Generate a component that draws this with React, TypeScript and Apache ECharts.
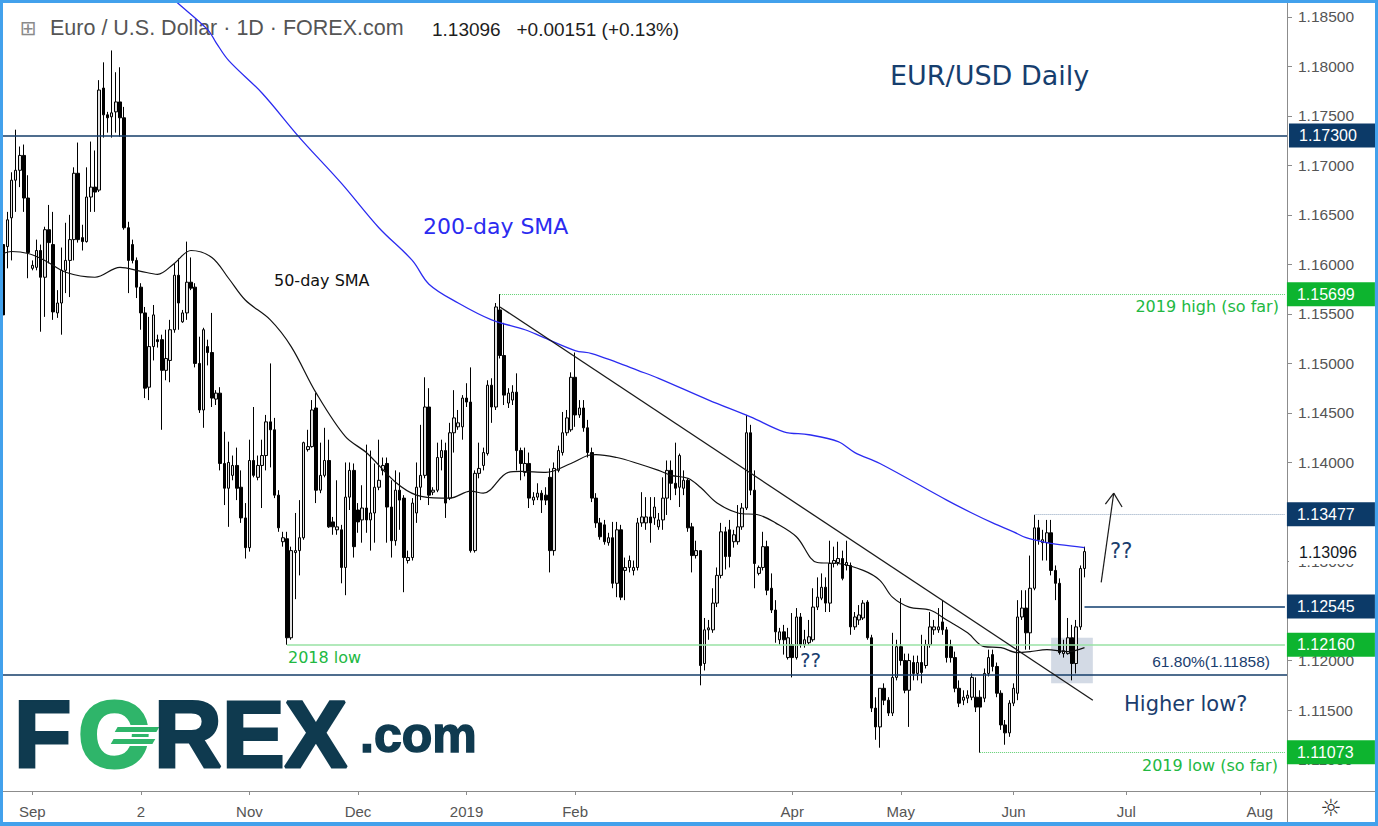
import React, { useEffect, useRef } from "react";
import * as echarts from "echarts";

// ---------- DATA ----------
const candleOpen = [
  1.1620,1.1618,1.1647,1.1685,1.1695,1.1710,1.1667,1.1596,1.1597,1.1614,
  1.1587,1.1635,1.1620,1.1551,1.1561,1.1594,1.1604,1.1625,1.1692,1.1627,
  1.1623,1.1668,1.1678,1.1675,1.1778,1.1751,1.1749,1.1754,1.1764,1.1748,
  1.1637,1.1620,1.1604,1.1577,1.1551,1.1476,1.1517,1.1524,1.1524,1.1493,
  1.1503,1.1534,1.1589,1.1542,1.1551,1.1582,1.1577,1.1500,1.1453,1.1517,
  1.1511,1.1464,1.1470,1.1399,1.1374,1.1387,1.1397,1.1375,1.1344,1.1314,
  1.1402,1.1385,1.1397,1.1407,1.1441,1.1433,1.1367,1.1320,1.1323,1.1223,
  1.1309,1.1311,1.1324,1.1413,1.1416,1.1455,1.1372,1.1387,1.1402,1.1340,
  1.1332,1.1332,1.1294,1.1365,1.1392,1.1352,1.1342,1.1354,1.1342,1.1349,
  1.1375,1.1392,1.1399,1.1355,1.1321,1.1372,1.1364,1.1301,1.1304,1.1349,
  1.1375,1.1387,1.1456,1.1370,1.1372,1.1405,1.1412,1.1364,1.1430,1.1436,
  1.1436,1.1465,1.1461,1.1311,1.1389,1.1397,1.1409,1.1478,1.1456,1.1554,
  1.1508,1.1460,1.1463,1.1471,1.1412,1.1390,1.1399,1.1362,1.1365,1.1369,
  1.1367,1.1385,1.1311,1.1392,1.1410,1.1430,1.1433,1.1486,1.1448,1.1455,
  1.1435,1.1410,1.1364,1.1339,1.1337,1.1319,1.1324,1.1278,1.1332,1.1291,
  1.1294,1.1291,1.1294,1.1339,1.1339,1.1345,1.1344,1.1335,1.1342,1.1364,
  1.1392,1.1379,1.1375,1.1374,1.1382,1.1335,1.1306,1.1311,1.1197,1.1231,
  1.1231,1.1258,1.1286,1.1330,1.1332,1.1320,1.1320,1.1335,1.1354,1.1430,
  1.1372,1.1288,1.1294,1.1315,1.1273,1.1251,1.1221,1.1229,1.1203,1.1216,
  1.1203,1.1244,1.1216,1.1218,1.1221,1.1254,1.1263,1.1274,1.1258,1.1298,
  1.1299,1.1303,1.1296,1.1296,1.1234,1.1241,1.1243,1.1259,1.1223,1.1152,
  1.1133,1.1172,1.1160,1.1147,1.1183,1.1214,1.1200,1.1170,1.1198,1.1187,
  1.1198,1.1195,1.1216,1.1231,1.1231,1.1239,1.1231,1.1214,1.1203,1.1172,
  1.1160,1.1162,1.1163,1.1163,1.1163,1.1162,1.1187,1.1206,1.1194,1.1167,
  1.1135,1.1127,1.1157,1.1167,1.1244,1.1253,1.1228,1.1273,1.1334,1.1319,
  1.1319,1.1329,1.1291,1.1278,1.1207,1.1207,1.1223,1.1197,1.1234,1.1293,
];
const candleClose = [
  1.1549,1.1645,1.1685,1.1695,1.1710,1.1667,1.1612,1.1599,1.1614,1.1587,
  1.1635,1.1622,1.1552,1.1561,1.1594,1.1604,1.1625,1.1692,1.1625,1.1623,
  1.1668,1.1678,1.1673,1.1776,1.1751,1.1748,1.1753,1.1764,1.1748,1.1637,
  1.1604,1.1604,1.1577,1.1551,1.1475,1.1517,1.1549,1.1522,1.1493,1.1505,
  1.1534,1.1589,1.1561,1.1551,1.1582,1.1576,1.1500,1.1453,1.1534,1.1511,
  1.1465,1.1470,1.1399,1.1374,1.1400,1.1397,1.1374,1.1344,1.1314,1.1402,
  1.1387,1.1397,1.1407,1.1441,1.1433,1.1367,1.1334,1.1324,1.1223,1.1311,
  1.1311,1.1324,1.1420,1.1416,1.1453,1.1372,1.1387,1.1402,1.1335,1.1335,
  1.1335,1.1294,1.1365,1.1392,1.1315,1.1340,1.1354,1.1342,1.1349,1.1375,
  1.1382,1.1397,1.1355,1.1321,1.1372,1.1362,1.1304,1.1304,1.1359,1.1375,
  1.1387,1.1456,1.1367,1.1372,1.1405,1.1412,1.1359,1.1430,1.1445,1.1440,
  1.1465,1.1461,1.1311,1.1389,1.1394,1.1410,1.1478,1.1456,1.1557,1.1508,
  1.1468,1.1470,1.1471,1.1412,1.1399,1.1399,1.1364,1.1365,1.1369,1.1362,
  1.1362,1.1311,1.1394,1.1412,1.1430,1.1445,1.1486,1.1448,1.1455,1.1435,
  1.1410,1.1364,1.1339,1.1325,1.1320,1.1324,1.1278,1.1332,1.1264,1.1294,
  1.1301,1.1294,1.1339,1.1345,1.1345,1.1339,1.1355,1.1342,1.1364,1.1392,
  1.1379,1.1374,1.1407,1.1382,1.1334,1.1306,1.1311,1.1195,1.1231,1.1233,
  1.1258,1.1286,1.1330,1.1305,1.1305,1.1327,1.1335,1.1354,1.1430,1.1372,
  1.1298,1.1294,1.1315,1.1271,1.1251,1.1229,1.1229,1.1221,1.1223,1.1203,
  1.1244,1.1216,1.1221,1.1224,1.1254,1.1264,1.1274,1.1258,1.1298,1.1301,
  1.1303,1.1283,1.1299,1.1234,1.1244,1.1246,1.1258,1.1223,1.1152,1.1133,
  1.1172,1.1160,1.1147,1.1183,1.1214,1.1200,1.1170,1.1200,1.1187,1.1198,
  1.1188,1.1216,1.1234,1.1234,1.1234,1.1231,1.1203,1.1203,1.1172,1.1157,
  1.1163,1.1165,1.1183,1.1153,1.1153,1.1187,1.1203,1.1194,1.1167,1.1135,
  1.1127,1.1157,1.1172,1.1244,1.1253,1.1228,1.1273,1.1334,1.1322,1.1322,
  1.1329,1.1291,1.1278,1.1208,1.1210,1.1223,1.1197,1.1234,1.1293,1.1310,
];
const candleHigh = [
  1.1625,1.1653,1.1693,1.1736,1.1719,1.1721,1.1690,1.1604,1.1625,1.1620,
  1.1638,1.1660,1.1653,1.1574,1.1617,1.1642,1.1650,1.1698,1.1723,1.1640,
  1.1698,1.1724,1.1715,1.1786,1.1804,1.1754,1.1816,1.1794,1.1799,1.1759,
  1.1643,1.1625,1.1607,1.1581,1.1557,1.1547,1.1559,1.1529,1.1529,1.1534,
  1.1544,1.1601,1.1606,1.1554,1.1623,1.1607,1.1581,1.1527,1.1536,1.1524,
  1.1551,1.1473,1.1476,1.1431,1.1421,1.1407,1.1415,1.1392,1.1359,1.1423,
  1.1456,1.1407,1.1423,1.1448,1.1500,1.1445,1.1372,1.1330,1.1330,1.1315,
  1.1349,1.1362,1.1421,1.1433,1.1463,1.1470,1.1420,1.1435,1.1423,1.1345,
  1.1382,1.1337,1.1400,1.1400,1.1399,1.1359,1.1377,1.1418,1.1412,1.1399,
  1.1423,1.1405,1.1405,1.1382,1.1392,1.1390,1.1367,1.1311,1.1364,1.1400,
  1.1438,1.1486,1.1475,1.1375,1.1420,1.1423,1.1420,1.1440,1.1473,1.1453,
  1.1468,1.1480,1.1496,1.1392,1.1420,1.1415,1.1483,1.1485,1.1561,1.1570,
  1.1541,1.1475,1.1478,1.1490,1.1415,1.1415,1.1410,1.1370,1.1379,1.1372,
  1.1375,1.1394,1.1400,1.1417,1.1451,1.1453,1.1491,1.1511,1.1463,1.1463,
  1.1443,1.1415,1.1369,1.1344,1.1342,1.1329,1.1340,1.1340,1.1337,1.1304,
  1.1306,1.1301,1.1344,1.1370,1.1365,1.1365,1.1365,1.1349,1.1385,1.1402,
  1.1402,1.1420,1.1409,1.1392,1.1384,1.1339,1.1321,1.1311,1.1243,1.1241,
  1.1273,1.1294,1.1339,1.1335,1.1342,1.1332,1.1357,1.1359,1.1448,1.1438,
  1.1392,1.1296,1.1330,1.1321,1.1288,1.1261,1.1233,1.1236,1.1233,1.1248,
  1.1253,1.1248,1.1231,1.1241,1.1273,1.1284,1.1288,1.1284,1.1321,1.1315,
  1.1320,1.1311,1.1321,1.1299,1.1249,1.1256,1.1261,1.1261,1.1226,1.1163,
  1.1172,1.1177,1.1163,1.1228,1.1221,1.1263,1.1207,1.1207,1.1205,1.1205,
  1.1226,1.1221,1.1249,1.1241,1.1253,1.1261,1.1234,1.1221,1.1209,1.1180,
  1.1170,1.1170,1.1187,1.1183,1.1170,1.1192,1.1211,1.1211,1.1198,1.1170,
  1.1140,1.1160,1.1177,1.1261,1.1271,1.1271,1.1306,1.1347,1.1342,1.1332,
  1.1342,1.1342,1.1296,1.1283,1.1221,1.1243,1.1236,1.1241,1.1296,1.1315,
];
const candleLow = [
  1.1542,1.1596,1.1604,1.1653,1.1678,1.1653,1.1586,1.1594,1.1594,1.1532,
  1.1547,1.1601,1.1544,1.1546,1.1529,1.1571,1.1567,1.1604,1.1622,1.1614,
  1.1622,1.1653,1.1653,1.1673,1.1728,1.1733,1.1728,1.1733,1.1729,1.1635,
  1.1571,1.1601,1.1566,1.1534,1.1465,1.1463,1.1503,1.1516,1.1433,1.1483,
  1.1481,1.1531,1.1534,1.1541,1.1544,1.1574,1.1496,1.1450,1.1435,1.1498,
  1.1456,1.1458,1.1392,1.1357,1.1335,1.1382,1.1362,1.1339,1.1303,1.1310,
  1.1385,1.1382,1.1354,1.1392,1.1395,1.1364,1.1330,1.1315,1.1216,1.1221,
  1.1262,1.1286,1.1322,1.1411,1.1415,1.1359,1.1369,1.1385,1.1334,1.1327,
  1.1327,1.1278,1.1266,1.1352,1.1304,1.1329,1.1319,1.1329,1.1311,1.1319,
  1.1372,1.1387,1.1319,1.1304,1.1316,1.1332,1.1269,1.1298,1.1301,1.1339,
  1.1362,1.1384,1.1357,1.1367,1.1370,1.1392,1.1344,1.1362,1.1410,1.1433,
  1.1423,1.1456,1.1309,1.1309,1.1384,1.1392,1.1407,1.1440,1.1453,1.1505,
  1.1458,1.1455,1.1458,1.1392,1.1382,1.1386,1.1354,1.1357,1.1362,1.1349,
  1.1357,1.1289,1.1306,1.1390,1.1407,1.1427,1.1431,1.1436,1.1445,1.1431,
  1.1405,1.1360,1.1334,1.1322,1.1317,1.1316,1.1273,1.1264,1.1261,1.1261,
  1.1289,1.1286,1.1291,1.1335,1.1332,1.1319,1.1337,1.1332,1.1332,1.1347,
  1.1362,1.1367,1.1355,1.1367,1.1330,1.1289,1.1303,1.1175,1.1190,1.1221,
  1.1228,1.1254,1.1283,1.1292,1.1294,1.1314,1.1317,1.1332,1.1352,1.1367,
  1.1273,1.1286,1.1291,1.1266,1.1248,1.1218,1.1216,1.1206,1.1201,1.1183,
  1.1201,1.1213,1.1213,1.1216,1.1219,1.1251,1.1261,1.1249,1.1249,1.1294,
  1.1296,1.1281,1.1291,1.1226,1.1231,1.1236,1.1241,1.1221,1.1148,1.1120,
  1.1112,1.1155,1.1144,1.1144,1.1180,1.1195,1.1167,1.1133,1.1180,1.1180,
  1.1177,1.1192,1.1213,1.1226,1.1228,1.1226,1.1198,1.1198,1.1168,1.1153,
  1.1155,1.1157,1.1160,1.1148,1.1107,1.1158,1.1184,1.1189,1.1163,1.1130,
  1.1115,1.1123,1.1154,1.1160,1.1241,1.1211,1.1211,1.1271,1.1317,1.1301,
  1.1301,1.1286,1.1261,1.1206,1.1203,1.1206,1.1180,1.1187,1.1231,1.1284,
];

// 50-day and 200-day SMA as [bar index, value]
const sma50Points = [
  [0,1.1611],[2,1.1613],[6,1.1611],[10,1.1604],[15,1.1592],[22,1.1587],[28,1.1597],[33,1.1593],
  [37,1.1590],[41,1.1601],[45,1.1614],[50,1.1607],[54,1.1586],[58,1.1564],[64,1.1544],[69,1.1517],
  [75,1.1470],[82,1.1426],[87,1.1410],[94,1.1380],[99,1.1367],[105,1.1364],[107,1.1364],[112,1.1371],
  [115,1.1369],[121,1.1390],[124,1.1391],[130,1.1390],[136,1.1399],[140,1.1407],[142,1.1408],[147,1.1405],
  [152,1.1399],[157,1.1392],[160,1.1387],[164,1.1384],[167,1.1375],[171,1.1359],[176,1.1349],[181,1.1347],
  [185,1.1339],[190,1.1325],[195,1.1299],[200,1.1298],[206,1.1291],[210,1.1281],[213,1.1264],[217,1.1254],
  [222,1.1251],[226,1.1241],[231,1.1228],[235,1.1214],[239,1.1213],[243,1.1208],[246,1.1209],[250,1.1211],
  [255,1.1209],[259,1.1213],
];
const sma200Points = [
  [40,1.1872],[41,1.1867],[49,1.1837],[51,1.1824],[54,1.1806],[62,1.1773],[71,1.1728],[81,1.1682],
  [90,1.1637],[98,1.1604],[102,1.1580],[109,1.1561],[117,1.1544],[125,1.1534],[129,1.1527],[137,1.1513],
  [141,1.1510],[147,1.1501],[152,1.1493],[157,1.1485],[169,1.1463],[179,1.1446],[187,1.1431],[193,1.1428],
  [200,1.1421],[204,1.1410],[210,1.1399],[226,1.1362],[232,1.1349],[237,1.1339],[242,1.1330],[245,1.1324],
  [250,1.1319],[253,1.1317],[259,1.1314],
];

const FUTURE_SLOTS = 48;
const monthTickIndex = [7, 33, 59, 85, 111, 137, 189, 215, 242, 269, 301];
const monthTickLabel = ["Sep", "2", "Nov", "Dec", "2019", "Feb", "Apr", "May", "Jun", "Jul", "Aug"];
const priceTicks = [1.11, 1.115, 1.12, 1.125, 1.13, 1.135, 1.14, 1.145, 1.15, 1.155, 1.16, 1.165, 1.17, 1.175, 1.18, 1.185];
const Y_MIN = 1.10683;
const Y_MAX = 1.18639;

const lastPrice = 1.13096;
const lastChange = "+0.00151 (+0.13%)";
const levelResistance = 1.173;
const levelHigh2019 = 1.15699;
const levelJunHigh = 1.13477;
const levelPivot = 1.12545;
const levelLow2018 = 1.1216;
const levelFib = 1.11858;
const levelLow2019 = 1.11073;
const high2019Idx = 119;
const junHighIdx = 247;
const low2018Idx = 68;
const low2019Idx = 234;
const trendStart = [119, 1.1557];
const trendEnd = [261, 1.116];
const arrowTail = [263, 1.1279];
const arrowTip = [266, 1.1369];
const arrowArmLeft = [264, 1.1358];
const arrowArmRight = [268, 1.1355];
const boxCorner1 = [251, 1.1223];
const boxCorner2 = [261, 1.1177];

// ---------- STYLE ----------
const FONT_UI = "'Liberation Sans', Arial, Helvetica, sans-serif";
const FONT_NOTE = "'DejaVu Sans', Verdana, sans-serif";
const NAVY_BOX = "#0c3a68";
const NAVY_LINE = "#143d69";
const GREEN_BOX = "#0db42f";
const GREEN_TEXT = "#22b842";
const GREEN_DOT = "#5fd070";
const GREEN_SOLID = "#98e2a4";
const SLATE = "#4b6d92";
const DOT_BLUE = "#8fa5bf";
const BLUE_SMA = "#2b2bf0";
const TEXT_NAVY = "#1a3d6d";
const AXIS_GRAY = "#8c8c8c";
const LABEL_GRAY = "#555555";
const LOGO_NAVY = "#0f3a4f";
const LOGO_GREEN = "#2fb56a";

export default function App() {
  const ref = useRef<HTMLDivElement>(null);

  useEffect(() => {
    if (!ref.current) return;
    const chart = echarts.init(ref.current, null, { renderer: "svg", width: 1378, height: 826 });

    const dates: string[] = [];
    let d = new Date(Date.UTC(2018, 7, 24));
    while (dates.length < candleOpen.length) {
      if (d.getUTCDay() !== 6) dates.push(d.toISOString().slice(0, 10));
      d = new Date(d.getTime() + 86400000);
    }
    const categories = [...dates, ...Array.from({ length: FUTURE_SLOTS }, (_, k) => `+${k + 1}`)];
    const LAST_SLOT = categories.length - 1;
    const lastIdx = candleOpen.length - 1;

    const candles = candleOpen.map((o, i) => [o, candleClose[i], candleLow[i], candleHigh[i]]);
    const tickSet = new Set(monthTickIndex);
    const labelMap = new Map(monthTickIndex.map((idx, k) => [idx, monthTickLabel[k]]));

    const priceBox = (v: number, bg: string, fg: string) => ({
      show: true,
      position: "end",
      distance: 2,
      formatter: v.toFixed(5),
      color: fg,
      backgroundColor: bg,
      padding: [4, 0, 4, 10],
      width: 78,
      lineHeight: 16,
      fontSize: 16,
      fontFamily: FONT_UI,
    });
    const note = (text: string, position: string, distance: number[], color: string, size: number, family = FONT_NOTE) => ({
      show: true,
      position,
      distance,
      formatter: text,
      color,
      fontSize: size,
      fontFamily: family,
    });
    const hidden = { color: "rgba(0,0,0,0)", width: 0, type: "solid" };
    const solidBlack = { color: "#1a1a1a", width: 1.3, type: "solid" };

    const markLineData: any[] = [
      { yAxis: levelResistance, lineStyle: { color: NAVY_LINE, width: 1.5, type: "solid" }, label: priceBox(levelResistance, NAVY_BOX, "#fff") },
      [
        { coord: [high2019Idx, levelHigh2019], lineStyle: { color: GREEN_DOT, width: 1, type: "dotted" }, label: priceBox(levelHigh2019, GREEN_BOX, "#fff") },
        { coord: [LAST_SLOT, levelHigh2019] },
      ],
      [
        { coord: [high2019Idx, levelHigh2019], lineStyle: hidden, label: note("2019 high (so far)", "insideEndBottom", [6, 4], GREEN_TEXT, 16) },
        { coord: [LAST_SLOT, levelHigh2019] },
      ],
      [
        { coord: [junHighIdx, levelJunHigh], lineStyle: { color: DOT_BLUE, width: 1, type: "dotted" }, label: priceBox(levelJunHigh, NAVY_BOX, "#fff") },
        { coord: [LAST_SLOT, levelJunHigh] },
      ],
      { yAxis: lastPrice, lineStyle: hidden, label: priceBox(lastPrice, "#ffffff", "#131722") },
      [
        { coord: [lastIdx, levelPivot], lineStyle: { color: SLATE, width: 2, type: "solid" }, label: priceBox(levelPivot, NAVY_BOX, "#fff") },
        { coord: [LAST_SLOT, levelPivot] },
      ],
      [
        { coord: [low2018Idx, levelLow2018], lineStyle: { color: GREEN_SOLID, width: 1.5, type: "solid" }, label: priceBox(levelLow2018, GREEN_BOX, "#fff") },
        { coord: [LAST_SLOT, levelLow2018] },
      ],
      [
        { coord: [low2018Idx, levelLow2018], lineStyle: hidden, label: note("2018 low", "insideStartBottom", [1, 5], GREEN_TEXT, 16) },
        { coord: [LAST_SLOT, levelLow2018] },
      ],
      {
        yAxis: levelFib,
        lineStyle: { color: NAVY_LINE, width: 1.5, type: "solid" },
        label: note(`61.80%(${levelFib.toFixed(5)})`, "insideEndTop", [17, 5], TEXT_NAVY, 15.5, FONT_UI),
      },
      [
        { coord: [low2019Idx, levelLow2019], lineStyle: { color: GREEN_DOT, width: 1, type: "dotted" }, label: priceBox(levelLow2019, GREEN_BOX, "#fff") },
        { coord: [LAST_SLOT, levelLow2019] },
      ],
      [
        { coord: [low2019Idx, levelLow2019], lineStyle: hidden, label: note("2019 low (so far)", "insideEndBottom", [7, 5], GREEN_TEXT, 16) },
        { coord: [LAST_SLOT, levelLow2019] },
      ],
      [{ coord: trendStart, lineStyle: solidBlack }, { coord: trendEnd }],
      [{ coord: arrowTail, lineStyle: { ...solidBlack, width: 1.2 } }, { coord: arrowTip }],
      [{ coord: arrowArmLeft, lineStyle: { ...solidBlack, width: 1.2 } }, { coord: arrowTip }],
      [{ coord: arrowArmRight, lineStyle: { ...solidBlack, width: 1.2 } }, { coord: arrowTip }],
    ];

    const text = (x: number, y: number, t: string, font: string, fill: string, align = "left", extra: any = {}) => ({
      type: "text",
      x,
      y,
      silent: true,
      style: { text: t, font, fill, align, verticalAlign: "middle", textAlign: align, textVerticalAlign: "middle", ...extra },
    });

    const option: any = {
      animation: false,
      backgroundColor: "#ffffff",
      grid: { left: 1, right: 91, top: 3, bottom: 35, containLabel: false },
      xAxis: {
        type: "category",
        data: categories,
        boundaryGap: true,
        axisLine: { show: true, lineStyle: { color: AXIS_GRAY, width: 1 } },
        axisTick: { show: true, alignWithLabel: true, length: 4, interval: (i: number) => tickSet.has(i), lineStyle: { color: AXIS_GRAY } },
        axisLabel: {
          interval: (i: number) => tickSet.has(i),
          formatter: (_v: string, i: number) => labelMap.get(i) ?? "",
          color: LABEL_GRAY,
          fontSize: 15,
          fontFamily: FONT_UI,
          margin: 13,
        },
        splitLine: { show: false },
      },
      yAxis: {
        type: "value",
        position: "right",
        min: Y_MIN,
        max: Y_MAX,
        splitNumber: 16,
        axisLine: { show: true, lineStyle: { color: AXIS_GRAY, width: 1 } },
        axisTick: { show: true, length: 5, inside: false, customValues: priceTicks, lineStyle: { color: AXIS_GRAY } },
        axisLabel: {
          customValues: priceTicks,
          formatter: (v: number) => {
            const k = Math.round(v / 0.005);
            return Math.abs(v - k * 0.005) < 1e-7 ? v.toFixed(5) : "";
          },
          color: LABEL_GRAY,
          fontSize: 15.5,
          fontFamily: FONT_UI,
          margin: 11,
        },
        splitLine: { show: false },
      },
      series: [
        {
          type: "candlestick",
          data: candles,
          barWidth: 3,
          clip: false,
          silent: true,
          itemStyle: { color: "#e2e2e2", color0: "#000000", borderColor: "#000000", borderColor0: "#000000", borderWidth: 1 },
          markArea: {
            silent: true,
            itemStyle: { color: "rgba(150,168,194,0.42)" },
            data: [[{ coord: boxCorner1 }, { coord: boxCorner2 }]],
          },
          markLine: {
            silent: true,
            animation: false,
            precision: 5,
            symbol: ["none", "none"],
            label: { show: false },
            data: markLineData,
          },
        },
        {
          type: "line",
          data: sma50Points,
          symbol: "none",
          smooth: 0.35,
          silent: true,
          lineStyle: { color: "#111111", width: 1.2 },
          z: 4,
        },
        {
          type: "line",
          data: sma200Points,
          symbol: "none",
          smooth: 0.35,
          silent: true,
          lineStyle: { color: BLUE_SMA, width: 1.3 },
          z: 4,
        },
      ],
      graphic: [
        // header
        text(28, 28, "⊞", `20px ${FONT_NOTE}`, "#8a8a8a", "center"),
        text(50, 28, "Euro / U.S. Dollar · 1D · FOREX.com", `21.5px ${FONT_UI}`, "#555555"),
        text(432, 29, `${lastPrice.toFixed(5)}   ${lastChange}`, `19px ${FONT_UI}`, "#1e1e1e"),
        // annotations
        text(890, 75, "EUR/USD Daily", `27px ${FONT_NOTE}`, "#163e6e"),
        text(423, 226, "200-day SMA", `22px ${FONT_NOTE}`, BLUE_SMA),
        text(274, 280, "50-day SMA", `16px ${FONT_NOTE}`, "#111111"),
        text(800, 660, "??", `20px ${FONT_NOTE}`, TEXT_NAVY),
        text(1110, 551, "??", `21px ${FONT_NOTE}`, TEXT_NAVY),
        text(1124, 704, "Higher low?", `21px ${FONT_NOTE}`, TEXT_NAVY),
        // logo
        text(14, 734, "F", `bold 94px ${FONT_UI}`, LOGO_NAVY, "left", { stroke: LOGO_NAVY, lineWidth: 3 }),
        text(78, 734, "O", `bold 94px ${FONT_UI}`, LOGO_GREEN, "left", { stroke: LOGO_GREEN, lineWidth: 3 }),
        {
          type: "polygon",
          silent: true,
          shape: { points: [[117, 726], [161, 726], [157, 733], [113, 733]] },
          style: { fill: LOGO_GREEN, stroke: "#ffffff", lineWidth: 2 },
        },
        {
          type: "polygon",
          silent: true,
          shape: { points: [[113, 738], [157, 738], [153, 745], [109, 745]] },
          style: { fill: LOGO_GREEN, stroke: "#ffffff", lineWidth: 2 },
        },
        text(154, 734, "REX", `bold 94px ${FONT_UI}`, LOGO_NAVY, "left", { stroke: LOGO_NAVY, lineWidth: 3 }),
        text(360, 735, ".com", `bold 50px ${FONT_UI}`, LOGO_NAVY, "left", { stroke: LOGO_NAVY, lineWidth: 1.5 }),
        // axis extensions & settings icon
        { type: "line", silent: true, shape: { x1: 1287, y1: 791.5, x2: 1378, y2: 791.5 }, style: { stroke: AXIS_GRAY, lineWidth: 1 } },
        { type: "line", silent: true, shape: { x1: 1287.5, y1: 791, x2: 1287.5, y2: 826 }, style: { stroke: AXIS_GRAY, lineWidth: 1 } },
        text(1331, 808, "☼", `24px ${FONT_NOTE}`, "#333333", "center"),
      ],
    };

    chart.setOption(option);
    return () => chart.dispose();
  }, []);

  return (
    <>
      <div ref={ref} style={{ position: "fixed", left: 0, top: 0, width: 1378, height: 826, background: "#fff" }} />
      <div
        style={{
          position: "fixed",
          left: 0,
          top: 0,
          width: 1378,
          height: 826,
          boxSizing: "border-box",
          borderStyle: "solid",
          borderColor: "#42a1ec",
          borderWidth: "3px 3px 4px 3px",
          pointerEvents: "none",
        }}
      />
    </>
  );
}
